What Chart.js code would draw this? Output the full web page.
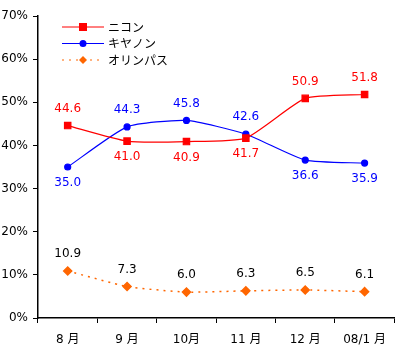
<!DOCTYPE html>
<html>
<head>
<meta charset="utf-8">
<script src="https://cdn.jsdelivr.net/npm/chart.js@4/dist/chart.umd.min.js"></script>
<style>
  html, body { margin: 0; padding: 0; background: #fff; }
  #wrap { width: 400px; height: 351px; }
</style>
</head>
<body>
<div id="wrap"><canvas id="chart"></canvas></div>
<script>
const categories = ['8 月', '9 月', '10月', '11 月', '12 月', '08/1 月'];
const nikon = [44.6, 41.0, 40.9, 41.7, 50.9, 51.8];
const canon = [35.0, 44.3, 45.8, 42.6, 36.6, 35.9];
const olympus = [10.9, 7.3, 6.0, 6.3, 6.5, 6.1];
const yTicks = [0, 10, 20, 30, 40, 50, 60, 70];

// which labels go below the point
const labelBelow = {
    0: [false, true, true, true, false, false],
    1: [true, false, false, false, true, true],
    2: [false, false, false, false, false, false]
};
const labelColors = ['#ff0000', '#0000ff', '#000000'];
const FONT = '"DejaVu Sans", "Noto Sans CJK JP", sans-serif';

const valueLabels = {
    id: 'valueLabels',
    afterDatasetsDraw(chart) {
        const ctx = chart.ctx;
        ctx.save();
        ctx.font = '12px ' + FONT;
        ctx.textAlign = 'center';
        chart.data.datasets.forEach((ds, i) => {
            const meta = chart.getDatasetMeta(i);
            meta.data.forEach((pt, j) => {
                const below = labelBelow[i][j];
                ctx.fillStyle = labelColors[i];
                ctx.textBaseline = below ? 'top' : 'bottom';
                const y = below ? pt.y + 10 : pt.y - 11;
                ctx.fillText(ds.data[j].toFixed(1), pt.x, y);
            });
        });
        ctx.restore();
    }
};

const customLegend = {
    id: 'customLegend',
    afterDraw(chart) {
        const ctx = chart.ctx;
        ctx.save();
        ctx.font = '12px "Noto Sans CJK JP", sans-serif';
        ctx.textBaseline = 'middle';
        chart.data.datasets.forEach((ds, i) => {
            const y = 27 + i * 16.5;
            ctx.strokeStyle = ds.borderColor;
            ctx.lineWidth = 1;
            ctx.setLineDash(ds.borderDash || []);
            ctx.beginPath();
            ctx.moveTo(62, y);
            ctx.lineTo(104, y);
            ctx.stroke();
            ctx.setLineDash([]);
            ctx.fillStyle = ds.pointBackgroundColor;
            ctx.beginPath();
            if (ds.pointStyle === 'rect') {
                ctx.rect(79, y - 4, 8, 8);
            } else if (ds.pointStyle === 'circle') {
                ctx.arc(83, y, 3.5, 0, Math.PI * 2);
            } else {
                ctx.moveTo(83, y - 4); ctx.lineTo(87, y); ctx.lineTo(83, y + 4); ctx.lineTo(79, y);
                ctx.closePath();
            }
            ctx.fill();
            ctx.fillStyle = '#000';
            ctx.fillText(ds.label, 108, y);
        });
        ctx.restore();
    }
};

new Chart(document.getElementById('chart'), {
    type: 'line',
    data: {
        labels: categories,
        datasets: [
            {
                label: 'ニコン', data: nikon,
                borderColor: '#ff0000', backgroundColor: '#ff0000',
                pointBackgroundColor: '#ff0000', pointBorderColor: '#ff0000',
                pointStyle: 'rect', pointRadius: 4.5, borderWidth: 1.2
            },
            {
                label: 'キヤノン', data: canon,
                borderColor: '#0000ff', backgroundColor: '#0000ff',
                pointBackgroundColor: '#0000ff', pointBorderColor: '#0000ff',
                pointStyle: 'circle', pointRadius: 3, borderWidth: 1.2
            },
            {
                label: 'オリンパス', data: olympus,
                borderColor: '#ff6600', backgroundColor: '#ff6600',
                pointBackgroundColor: '#ff6600', pointBorderColor: '#ff6600',
                pointStyle: 'rectRot', pointRadius: 4, borderWidth: 1.5,
                borderDash: [2, 5]
            }
        ]
    },
    options: {
        responsive: true,
        maintainAspectRatio: false,
        animation: false,
        devicePixelRatio: 1,
        layout: { padding: { top: 16, right: 5, left: 0, bottom: 0 } },
        elements: { line: { tension: 0.18 } },
        plugins: {
            legend: { display: false },
            tooltip: { enabled: false }
        },
        scales: {
            x: {
                offset: true,
                grid: { offset: true, drawOnChartArea: false, drawTicks: true, tickLength: 5, color: '#000' },
                border: { color: '#000', width: 1.5 },
                ticks: { color: '#000', font: { size: 12, family: FONT }, padding: 10, maxRotation: 0 },
                afterFit(scale) { scale.height = 33; }
            },
            y: {
                min: 0, max: 70,
                afterBuildTicks(scale) { scale.ticks = yTicks.map(v => ({ value: v })); },
                grid: { drawOnChartArea: false, drawTicks: true, tickLength: 5, color: '#000' },
                border: { color: '#000', width: 1.5 },
                ticks: { color: '#000', font: { size: 12, family: FONT }, padding: 5, callback: v => v + '%' },
                afterFit(scale) { scale.width = 38; }
            }
        }
    },
    plugins: [valueLabels, customLegend]
});
</script>
</body>
</html>
